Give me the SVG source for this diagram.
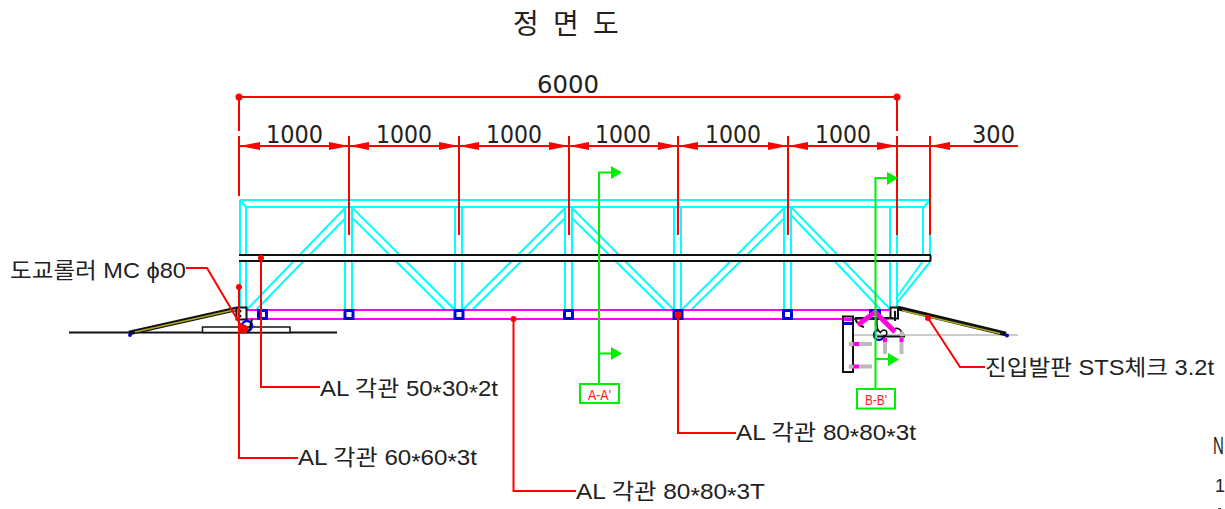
<svg xmlns="http://www.w3.org/2000/svg" width="1225" height="509" viewBox="0 0 1225 509">
<style>
text{font-family:"DejaVu Sans","Noto Sans CJK KR",sans-serif;fill:#222}
.l{font-family:"Liberation Sans","Noto Sans CJK KR",sans-serif;font-size:22px}
.d{font-size:24px}
.t{font-family:"Noto Sans CJK KR",sans-serif;font-size:28px}
.n{font-family:"Liberation Sans",sans-serif}
.c{stroke:#00ffff;stroke-width:2;fill:none}
.k{stroke:#111;stroke-width:2;fill:none}
.m{stroke:#ff00ff;stroke-width:2;fill:none}
.b{stroke:#0000e0;stroke-width:3;fill:none}
.r{stroke:#ff0000;stroke-width:2;fill:none}
.dim{stroke:#ff0000;stroke-width:2;fill:none;marker-start:url(#h);marker-end:url(#h)}
.g{stroke:#00ee00;stroke-width:2;fill:none}
.gray{stroke:#bbbbbb;fill:none}
.dot{fill:#ff0000}
.arrow{fill:#00ee00}
.tag{font-family:"Liberation Sans",sans-serif;fill:#ff2020;font-size:15.500px;text-anchor:middle}
</style>
<defs>
<marker id="h" markerUnits="userSpaceOnUse" markerWidth="20" markerHeight="8" refX="20" refY="4" orient="auto-start-reverse" overflow="visible"><path d="M0 0L20 4L0 8Z" fill="#ff0000"/></marker>
</defs>
<rect width="1225" height="509" fill="#fff"/>

<g id="truss">
<path class="c" d="M240 200H930M246 207H924L930 200M240 200L246 207M240 200V310M246 207V310"/>
<path class="c" d="M345 207V310M352 207V310M455 207V310M462 207V310M565 207V310M572 207V310M674 207V310M681 207V310M784 207V310M791 207V310M890 207V307M897 207V307M923 207V255M930 200V255"/>
<path class="c" d="M246.500 310L345 208M256 310L345.500 218M352.500 208L455 310M352.500 218L445 310M462.500 310L565 208M472 310L565 218M572 208L674 310M572 218L665 310M681.500 310L784 208M691 310L784.500 218M791 207L890 309M791 215L880 309M930 262L897 303M923 261L897 297"/>
</g>
<g id="rail">
<rect x="239" y="256" width="692" height="4" fill="#fff"/>
<path class="k" d="M239 255H931M239 261H931M930.500 255V261"/>
</g>
<g id="lower-chord">
<path class="m" d="M246 310H889M246 319H889"/>
<rect class="b" x="258.500" y="310.500" width="8" height="8"/>
<rect class="b" x="345" y="310.500" width="8" height="8"/>
<rect class="b" x="455" y="310.500" width="8" height="8"/>
<rect class="b" x="564.500" y="310.500" width="8" height="8"/>
<rect class="b" x="674" y="310.500" width="8" height="8"/>
<rect class="b" x="783.500" y="310.500" width="8" height="8"/>
</g>

<g id="left-support">
<path class="k" d="M69 332.500H337"/>
<rect x="202.500" y="327" width="87.500" height="5.500" fill="#fff" stroke="#111" stroke-width="1.500"/>
<path d="M129 333L236 309" stroke="#111" stroke-width="4.500" fill="none"/>
<path d="M135 332L236 309.500" stroke="#b0a820" stroke-width="1.500" fill="none"/>
<circle cx="130" cy="335" r="2" fill="#0000e0"/>
<rect x="236.500" y="307.500" width="10" height="12" fill="#fff" stroke="#111" stroke-width="2"/>
<circle cx="240" cy="311" r="1.500" fill="#111"/><circle cx="240" cy="316" r="1.500" fill="#111"/>
<circle cx="247" cy="326" r="5" fill="none" stroke="#0000e0" stroke-width="2.500"/>
<path class="k" d="M252 319L249 331"/>
</g>

<g id="right-support">
<path class="gray" stroke-width="1.500" d="M853 335H1018"/>
<path d="M898 308L1006 334" stroke="#111" stroke-width="4.500" fill="none"/>
<path d="M902 310.500L1000 333.500" stroke="#b0a820" stroke-width="1.500" fill="none"/>
<circle cx="1007" cy="335.500" r="2" fill="#0000e0"/>
<rect x="890.500" y="307.500" width="7.500" height="11" fill="#fff" stroke="#111" stroke-width="2"/>
<circle cx="895" cy="312" r="1.200" fill="#111"/><circle cx="895" cy="316" r="1.200" fill="#111"/>
<rect x="870.500" y="310.500" width="9" height="8" fill="none" stroke="#0000e0" stroke-width="3"/>
<rect x="843" y="316.500" width="10" height="55.500" fill="#fff" stroke="#111" stroke-width="2"/>
<rect x="844" y="318" width="8" height="3" fill="#ff00ff"/>
<rect x="844" y="322" width="8" height="3" fill="#0000e0"/>
<path class="k" d="M855 318H893M895 312V321M855 318Q857 325 864 327"/>
<path d="M878 330a5 5 0 1 0 6 5" fill="none" stroke="#0000e0" stroke-width="2.400"/>
<path d="M877 320Q876 330 881 333M881 332a3 3 0 1 1 3 4" fill="none" stroke="#111" stroke-width="1.500"/>
<path d="M892 331a5 5 0 0 1 9 5" fill="none" stroke="#111" stroke-width="1.500"/>
<path class="k" d="M877 336.500H905"/>
<path d="M858 325L875 312L895 332" fill="none" stroke="#ff00dd" stroke-width="5"/>
<path d="M885 338V342M901.500 338V342M853 344H859M853 366.500H859" stroke="#ff00dd" stroke-width="4" fill="none"/>
<path class="gray" stroke-width="4" d="M885 342V354M901.500 342V354M859 344H872M859 366.500H872"/>
<circle cx="851" cy="344" r="2.500" fill="#bbb"/><circle cx="851" cy="366.500" r="2.500" fill="#bbb"/><circle cx="902" cy="334" r="2.500" fill="#bbb"/>
</g>

<g id="connectors">
<path class="r" d="M239 97H897M239 97V131M897 97V131M239 136V196M897 136V235M930 136V235M349 136V235M459 136V235M569 136V235M678 136V235M788 136V235"/>
<path class="dim" d="M240 146H349"/>
<path class="dim" d="M349 146H459"/>
<path class="dim" d="M459 146H569"/>
<path class="dim" d="M569 146H678"/>
<path class="dim" d="M678 146H788"/>
<path class="dim" d="M788 146H897"/>
<path class="r" d="M897 146H930"/>
<path class="r" style="marker-start:url(#h)" d="M930 146H1018"/>
<path class="r" d="M186 268H207L243 329"/>
<path class="r" d="M239 287V458H298"/>
<path class="r" d="M261 258V387H320"/>
<path class="r" d="M513.500 319V491H576"/>
<path class="r" d="M678 315V433H736"/>
<path class="r" d="M928 318L960 367H985"/>
<circle class="dot" cx="239" cy="97" r="3.500"/>
<circle class="dot" cx="897" cy="97" r="3.500"/>
<circle class="dot" cx="239" cy="287" r="3"/>
<circle class="dot" cx="261" cy="258" r="3"/>
<circle class="dot" cx="513.500" cy="319" r="3"/>
<circle class="dot" cx="678" cy="315" r="3.500"/>
<circle class="dot" cx="928" cy="318" r="3"/>
<circle class="dot" cx="243.500" cy="329" r="4.500"/>
</g>

<g id="section-a">
<path class="g" d="M612 172.500H599V384M599 353.500H612"/>
<path class="arrow" d="M611 166L622 172.500L611 179Z"/>
<path class="arrow" d="M611 347L622 353.500L611 360Z"/>
<rect class="g" x="580" y="384" width="39" height="19" fill="#fff"/>
<text class="tag" x="599.500" y="399.500" textLength="23" lengthAdjust="spacingAndGlyphs">A-A'</text>
</g>
<g id="section-b">
<path class="g" d="M888 178H875.500V389M875.500 359H888"/>
<path class="arrow" d="M887 172L898 178L887 185Z"/>
<path class="arrow" d="M888 353L899 359.500L888 366Z"/>
<rect class="g" x="857" y="389" width="38" height="19.500" fill="#fff"/>
<text class="tag" x="876" y="405" textLength="22" lengthAdjust="spacingAndGlyphs">B-B'</text>
</g>

<g id="labels">
<text class="t" x="513" y="34">정</text>
<text class="t" x="553" y="34">면</text>
<text class="t" x="593" y="34">도</text>
<text class="d" x="537" y="93" textLength="62" lengthAdjust="spacingAndGlyphs">6000</text>
<text class="d" x="266" y="143" textLength="57" lengthAdjust="spacingAndGlyphs">1000</text>
<text class="d" x="376" y="143" textLength="56" lengthAdjust="spacingAndGlyphs">1000</text>
<text class="d" x="486" y="143" textLength="56" lengthAdjust="spacingAndGlyphs">1000</text>
<text class="d" x="595" y="143" textLength="56" lengthAdjust="spacingAndGlyphs">1000</text>
<text class="d" x="705" y="143" textLength="56" lengthAdjust="spacingAndGlyphs">1000</text>
<text class="d" x="815" y="143" textLength="56" lengthAdjust="spacingAndGlyphs">1000</text>
<text class="d" x="972" y="143" textLength="43" lengthAdjust="spacingAndGlyphs">300</text>
<text class="l" x="10" y="278" textLength="176" lengthAdjust="spacingAndGlyphs">도교롤러 MC ϕ80</text>
<text class="l" x="320" y="396" textLength="178" lengthAdjust="spacingAndGlyphs">AL 각관 50<tspan dy="4">*</tspan><tspan dy="-4">30</tspan><tspan dy="4">*</tspan><tspan dy="-4">2t</tspan></text>
<text class="l" x="298" y="465" textLength="179" lengthAdjust="spacingAndGlyphs">AL 각관 60<tspan dy="4">*</tspan><tspan dy="-4">60</tspan><tspan dy="4">*</tspan><tspan dy="-4">3t</tspan></text>
<text class="l" x="576" y="499" textLength="189" lengthAdjust="spacingAndGlyphs">AL 각관 80<tspan dy="4">*</tspan><tspan dy="-4">80</tspan><tspan dy="4">*</tspan><tspan dy="-4">3T</tspan></text>
<text class="l" x="736" y="440" textLength="180" lengthAdjust="spacingAndGlyphs">AL 각관 80<tspan dy="4">*</tspan><tspan dy="-4">80</tspan><tspan dy="4">*</tspan><tspan dy="-4">3t</tspan></text>
<text class="l" x="985" y="375" textLength="229" lengthAdjust="spacingAndGlyphs">진입발판 STS체크 3.2t</text>
<text class="n" transform="translate(1213 454) scale(.65 1)" font-size="23">N</text>
<text class="n" x="1215" y="492" font-size="18">1</text>
</g>
<path d="M1218 508.500H1221" stroke="#555" stroke-width="1"/>
</svg>
